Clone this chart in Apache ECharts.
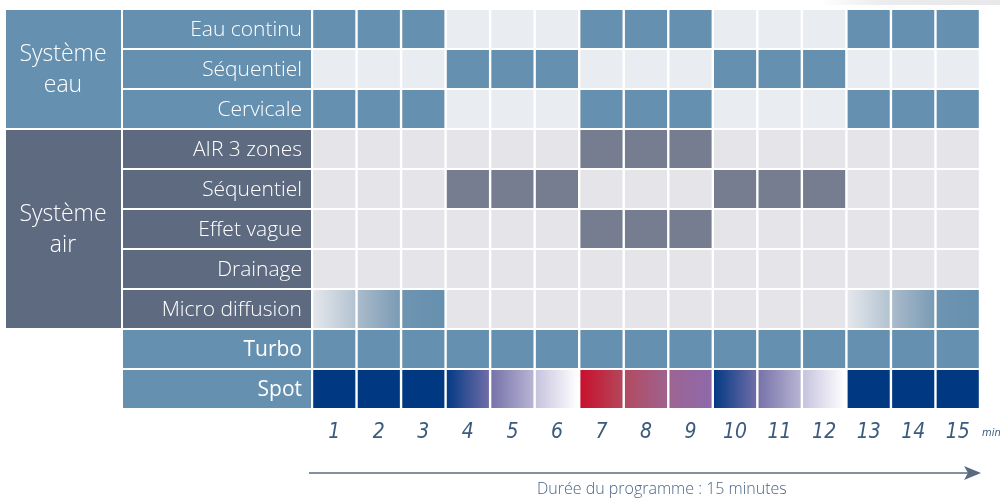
<!DOCTYPE html>
<html><head><meta charset="utf-8">
<script src="https://cdn.jsdelivr.net/npm/echarts@6/dist/echarts.min.js"></script>
<style>html,body{margin:0;padding:0;background:#fff}#c{width:1000px;height:503px}</style>
</head><body><div id="c"></div>
<script>
// ---- data ----
const minutes = ['1','2','3','4','5','6','7','8','9','10','11','12','13','14','15'];
const rowLabels = ['Eau continu','Séquentiel','Cervicale','AIR 3 zones','Séquentiel','Effet vague','Drainage','Micro diffusion','Turbo','Spot'];
const rowKind   = ['eau','eau','eau','air','air','air','air','micro','turbo','spot'];
const groupNames = ['Système\neau','Système\nair'];
const groupStart = [0,3];
const groupEnd   = [2,7];
const eauContinu     = [1,1,1,0,0,0,1,1,1,0,0,0,1,1,1];
const eauSequentiel  = [0,0,0,1,1,1,0,0,0,1,1,1,0,0,0];
const cervicale      = [1,1,1,0,0,0,1,1,1,0,0,0,1,1,1];
const air3Zones      = [0,0,0,0,0,0,1,1,1,0,0,0,0,0,0];
const airSequentiel  = [0,0,0,1,1,1,0,0,0,1,1,1,0,0,0];
const effetVague     = [0,0,0,0,0,0,1,1,1,0,0,0,0,0,0];
const drainage       = [0,0,0,0,0,0,0,0,0,0,0,0,0,0,0];
const microDiffusion = [1,2,3,0,0,0,0,0,0,0,0,0,1,2,3]; // fade-in level
const turbo          = [1,1,1,1,1,1,1,1,1,1,1,1,1,1,1];
const spot           = ['B','B','B','F1','F2','F3','R1','R2','R3','F1','F2','F3','B','B','B'];
const rows = [eauContinu,eauSequentiel,cervicale,air3Zones,airSequentiel,effetVague,drainage,microDiffusion,turbo,spot];

// ---- styles ----
const BLUE='#6690AF', AIRDARK='#5D6A80', AIRON='#767D91', EAUOFF='#E9ECF1', AIROFF='#E5E4E9', NAVY='#003882';
function grad(a,b){return new echarts.graphic.LinearGradient(0,0,1,0,[{offset:0,color:a},{offset:1,color:b}]);}
function cellFill(kind,v){
  if(kind==='eau') return v?BLUE:EAUOFF;
  if(kind==='air') return v?AIRON:AIROFF;
  if(kind==='turbo') return BLUE;
  if(kind==='micro'){
    if(v===1) return grad('#E4E7EC','#B3C3D1');
    if(v===2) return grad('#AABBCB','#7A9BB5');
    if(v===3) return grad('#6E94B1','#6690AF');
    return AIROFF;
  }
  if(kind==='spot'){
    return {B:NAVY,F1:grad('#043A84','#6F6DA7'),F2:grad('#7772A9','#B8B4D3'),F3:grad('#C6C3DE','#FFFFFF'),
      R1:grad('#C9102D','#B3475B'),R2:grad('#B24A60','#9F628F'),R3:grad('#9D6493','#8E69AA')}[v];
  }
}
const cells=[];
rows.forEach((arr,r)=>arr.forEach((v,c)=>cells.push({value:[c,r],kind:rowKind[r],state:v})));

const chart=echarts.init(document.getElementById('c'),null,{renderer:'canvas'});
const FONT='"Open Sans", Lato, sans-serif';
const NUMFONT='"Liberation Sans Narrow","DejaVu Sans Condensed",sans-serif';
chart.setOption({
  animation:false,
  backgroundColor:'#fff',
  grid:{left:312,right:20,top:9,bottom:94},
  xAxis:{type:'category',data:minutes,axisLine:{show:false},axisTick:{show:false},splitLine:{show:false},
    axisLabel:{color:'#3B5B7E',fontSize:21,fontStyle:'italic',fontFamily:NUMFONT,margin:13}},
  yAxis:{type:'category',data:rowLabels,inverse:true,axisLine:{show:false},axisTick:{show:false},axisLabel:{show:false},splitLine:{show:false}},
  series:[
    {type:'custom',name:'cells',data:cells.map(d=>d.value),
     renderItem:function(params,api){
       const d=cells[params.dataIndex];
       const p=api.coord([api.value(0),api.value(1)]);
       const s=api.size([1,1]);
       return {type:'rect',shape:{x:p[0]-s[0]/2+1.2,y:p[1]-s[1]/2+1,width:s[0]-2.4,height:s[1]-2},
         style:{fill:cellFill(d.kind,d.state)}};
     }},
    {type:'custom',name:'rowLabels',data:rowLabels.map((n,i)=>[0,i]),
     renderItem:function(params,api){
       const r=api.value(1);
       const p=api.coord([0,r]);
       const s=api.size([1,1]);
       const left=params.coordSys.x;
       const k=rowKind[r];
       const fill=(k==='air'||k==='micro')?AIRDARK:BLUE;
       const bold=(k==='turbo'||k==='spot');
       return {type:'group',children:[
         {type:'rect',shape:{x:left-189,y:p[1]-s[1]/2+1,width:188,height:s[1]-2},style:{fill:fill}},
         {type:'text',x:left-10,y:p[1]+1,style:{text:rowLabels[r],fill:'#fff',font:(bold?'400 ':'300 ')+'21px '+FONT,align:'right',verticalAlign:'middle'}}
       ]};
     }},
    {type:'custom',name:'groups',data:groupNames.map((n,i)=>[groupStart[i],groupEnd[i]]),
     renderItem:function(params,api){
       const i=params.dataIndex;
       const a=api.coord([0,api.value(0)]), b=api.coord([0,api.value(1)]);
       const s=api.size([1,1]);
       const left=params.coordSys.x;
       const top=a[1]-s[1]/2+1, bot=b[1]+s[1]/2-1;
       const fill=i===0?BLUE:AIRDARK;
       return {type:'group',children:[
         {type:'rect',shape:{x:left-306,y:top,width:115,height:bot-top},style:{fill:fill}},
         {type:'text',x:left-249,y:(top+bot)/2+1,style:{text:groupNames[i],fill:'#fff',font:'300 23px '+FONT,align:'center',verticalAlign:'middle',lineHeight:31}}
       ]};
     }}
  ],
  graphic:[
    {type:'rect',shape:{x:820,y:0,width:180,height:5},style:{fill:new echarts.graphic.LinearGradient(0,0,1,0,[{offset:0,color:'rgba(236,236,238,0)'},{offset:0.35,color:'#ECECEE'},{offset:1,color:'#E8E8EA'}])}},
    {type:'text',left:982,top:428,style:{text:'min',fill:'#3B5B7E',font:'italic 11px '+NUMFONT}},
    {type:'line',shape:{x1:309,y1:473,x2:972,y2:473},style:{stroke:'#5B6A80',lineWidth:1.5}},
    {type:'polygon',shape:{points:[[964,466],[981,473],[964,480],[968,473]]},style:{fill:'#5B6A80'}},
    {type:'text',left:537,top:481,style:{text:'Durée du programme : 15 minutes',fill:'#4A6585',font:'300 16px '+FONT}}
  ]
});
</script></body></html>
